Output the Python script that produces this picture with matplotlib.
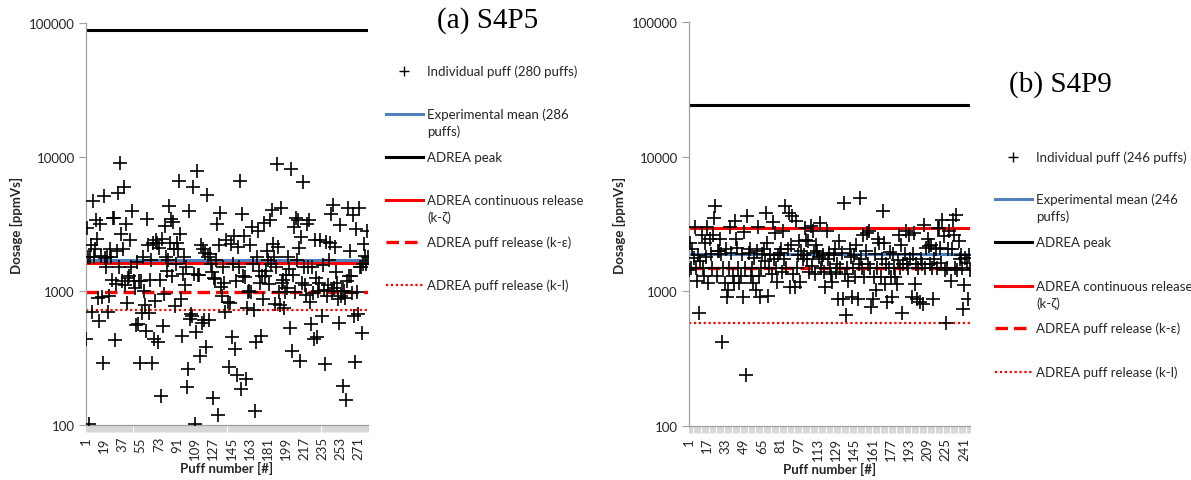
import matplotlib
matplotlib.use('Agg')
import matplotlib.pyplot as plt
from matplotlib.lines import Line2D
import numpy as np

plt.rcParams['font.family'] = ['Lato', 'DejaVu Sans']

# (a) S4P5 - individual puff dosages [ppmVs]
puffs_a = [
    440, 2950, 1800, 102, 1780, 2200, 700, 4700, 1780, 2050,
    3390, 2440, 880, 600, 3160, 1830, 900, 290, 5140, 1750,
    1500, 1780, 700, 920, 2050, 1800, 1200, 3490, 3520, 430,
    1120, 2000, 5360, 1500, 9020, 2660, 1180, 2050, 5940, 1100,
    3160, 820, 1250, 1300, 2400, 1520, 3980, 1180, 1050, 560,
    1650, 570, 1180, 290, 1190, 680, 1800, 1000, 780, 500,
    3470, 2200, 690, 1200, 1700, 290, 2280, 440, 840, 2400,
    2300, 414, 2100, 1200, 165, 2450, 545, 950, 3050, 1800,
    1420, 1700, 4330, 2300, 3450, 1300, 3290, 2050, 777, 1580,
    2300, 2050, 6580, 2660, 870, 460, 1340, 1800, 1100, 1500,
    191, 262, 3980, 618, 673, 654, 5940, 1340, 102, 495,
    7900, 1320, 1320, 330, 2200, 580, 2050, 605, 1920, 380,
    5200, 1780, 610, 1900, 1600, 1380, 158, 1260, 1230, 1700,
    3160, 119, 2200, 3800, 1065, 923, 1500, 1150, 700, 2400,
    830, 270, 820, 2240, 450, 1600, 2560, 370, 1190, 236,
    2120, 1510, 6650, 186, 3760, 1300, 2560, 1280, 220, 750,
    990, 1000, 2200, 990, 2990, 1590, 720, 128, 415, 1790,
    2800, 1400, 1150, 465, 1300, 870, 3210, 1300, 1400, 2000,
    1700, 1130, 3400, 1600, 4050, 2240, 1790, 800, 1500, 8870,
    2120, 990, 780, 4140, 1150, 1200, 750, 990, 1320, 1050,
    1800, 1450, 530, 8130, 355, 1320, 3000, 990, 3500, 1700,
    3400, 2080, 300, 2520, 1150, 6540, 1500, 1100, 930, 3160,
    1500, 3400, 830, 570, 1520, 960, 440, 2420, 1260, 450,
    1000, 1150, 2400, 650, 1550, 1010, 285, 2340, 910, 1100,
    1700, 2290, 3760, 1000, 4380, 1050, 2120, 1380, 1150, 870,
    580, 3100, 920, 1000, 195, 1000, 880, 154, 1180, 4140,
    1300, 2000, 1300, 960, 3700, 650, 295, 2900, 990, 670,
    4140, 1500, 1500, 490, 1600, 2240, 1820, 1580, 2820, 1800,
]

# (b) S4P9
puffs_b = [
    1450, 2300, 1500, 2050, 1780, 3000, 1480, 1200, 1870, 687,
    1680, 2600, 1500, 1310, 2300, 1800, 3000, 1150, 2430, 1880,
    1500, 2600, 3510, 4280, 1310, 1980, 2000, 2430, 1900, 417,
    1500, 1150, 2050, 900, 1020, 1500, 3000, 1930, 1310, 1150,
    3320, 2430, 2100, 1500, 1150, 1310, 1900, 900, 2780, 1500,
    239, 3610, 1930, 2050, 1310, 1500, 1150, 1780, 1020, 2000,
    3000, 1310, 900, 1500, 1880, 2050, 1680, 3830, 2300, 923,
    1500, 1850, 1350, 3260, 1750, 2720, 1500, 1170, 1850, 1930,
    2050, 1400, 2800, 1750, 4280, 1500, 2050, 3830, 1080, 2200,
    3610, 1350, 1080, 3320, 1500, 1850, 2360, 1170, 2000, 1750,
    1850, 2960, 2400, 1750, 2360, 1400, 3050, 1550, 2800, 1930,
    1350, 2200, 2000, 1800, 3220, 1500, 1750, 1850, 1400, 1080,
    2800, 1750, 1930, 1500, 1350, 1170, 1850, 2050, 1400, 1600,
    870, 2360, 1500, 1930, 870, 4540, 1350, 664, 1500, 1200,
    2050, 1800, 900, 1500, 1850, 1270, 2200, 880, 1600, 4940,
    1730, 1500, 2600, 1270, 2000, 2700, 1600, 2790, 1500, 760,
    880, 1270, 1880, 1030, 1500, 2450, 2270, 1270, 1730, 3930,
    2300, 1130, 1600, 830, 1500, 1950, 1270, 900, 1880, 1500,
    1270, 1130, 1700, 2600, 1500, 2200, 695, 1600, 1880, 2790,
    1600, 1500, 2600, 1730, 900, 1880, 2700, 1130, 1600, 880,
    1500, 830, 1730, 1600, 800, 3130, 1500, 2100, 2430, 2170,
    1600, 2200, 1500, 880, 1730, 2050, 1500, 2960, 2960, 2110,
    1630, 3410, 2570, 1450, 586, 1500, 2050, 2800, 1190, 2050,
    3410, 2640, 1500, 3660, 1450, 2360, 1730, 1850, 1500, 736,
    1110, 1780, 1630, 883, 1850, 1450,
]

# reference levels: exp. mean, ADREA peak, continuous (k-zeta), puff (k-eps), puff (k-l)
levels_a = [1700, 89000, 1620, 980, 725]
levels_b = [1900, 24200, 2940, 1490, 582]

labels_a = ['Individual puff (280 puffs)', 'Experimental mean (286\npuffs)', 'ADREA peak',
            'ADREA continuous release\n(k-\u03b6)', 'ADREA puff release (k-\u03b5)',
            'ADREA puff release (k-l)']
labels_b = ['Individual puff (246 puffs)', 'Experimental mean (246\npuffs)', 'ADREA peak',
            'ADREA continuous release\n(k-\u03b6)', 'ADREA puff release (k-\u03b5)',
            'ADREA puff release (k-l)']

W, H = 1191, 481
TXT = '#262626'
line_styles = [dict(color='#4F81BD', lw=2.2, ls='-'),
               dict(color='black', lw=2.2, ls='-'),
               dict(color='#FF0000', lw=2.2, ls='-'),
               dict(color='#FF0000', lw=2.4, ls=(0, (3.75, 1.8))),
               dict(color='#FF0000', lw=1.6, ls=(0, (1, 1.2)))]


def box(x0, y0, x1, y1):
    return [x0 / W, 1 - y1 / H, (x1 - x0) / W, (y1 - y0) / H]


def draw_panel(fig, rect, puffs, levels, tick_step):
    ax = fig.add_axes(rect)
    n = len(puffs)
    x = np.arange(1, n + 1)
    for lev, st in zip(levels, line_styles):
        ax.axhline(lev, zorder=2, **st)
    ax.plot(x, puffs, '+', color='black', ms=10, mew=1.2, zorder=3)
    ax.set_yscale('log')
    ax.set_ylim(100, 100000)
    ax.set_xlim(1, n)
    ax.set_yticks([100, 1000, 10000, 100000])
    ax.set_yticklabels(['100', '1000', '10000', '100000'])
    ax.yaxis.set_minor_locator(matplotlib.ticker.NullLocator())
    ax.set_xticks(np.arange(1, n + 1, tick_step))
    ax.set_xticklabels([str(v) for v in range(1, n + 1, tick_step)], rotation=90)
    ax.set_xticks(x, minor=True)
    ax.tick_params(axis='x', which='both', length=5, width=0.4, color='#b8b8b8',
                   labelsize=9.5, labelcolor=TXT, pad=3)
    ax.tick_params(axis='y', length=5, width=0.8, color='#a0a0a0', labelsize=9.5,
                   labelcolor=TXT, pad=3)
    for s in ['top', 'right']:
        ax.spines[s].set_visible(False)
    for s in ['left', 'bottom']:
        ax.spines[s].set_color('#a0a0a0')
        ax.spines[s].set_linewidth(0.9)
    ax.set_ylabel('Dosage [ppmVs]', fontsize=9.5, fontweight='bold', color=TXT)
    ax.set_xlabel('Puff number [#]', fontsize=9.5, fontweight='bold', color=TXT)
    ax.yaxis.set_label_coords(-63 / (rect[2] * W), 0.5)
    ax.xaxis.set_label_coords(0.5, -36 / (rect[3] * H))
    return ax


def draw_legend(fig, x0, ys, labels):
    handles = [None] + line_styles
    for y, lab, st in zip(ys, labels, handles):
        yf = 1 - y / H
        if st is None:
            fig.add_artist(Line2D([(x0 + 18) / W], [yf], marker='+', color='black',
                                  ms=7, mew=1.0, transform=fig.transFigure))
        else:
            fig.add_artist(Line2D([x0 / W, (x0 + 37) / W], [yf, yf],
                                  transform=fig.transFigure, **st))
        for i, part in enumerate(lab.split('\n')):
            fig.text((x0 + 41) / W, 1 - (y + 17 * i) / H, part, fontsize=9.5,
                     color=TXT, va='center', ha='left')


fig = plt.figure(figsize=(W / 100, H / 100), dpi=100)

draw_panel(fig, box(86, 24, 368, 426), puffs_a, levels_a, 18)
draw_panel(fig, box(689, 23, 970, 427), puffs_b, levels_b, 16)

draw_legend(fig, 386, [72, 115, 158, 201, 243, 286], labels_a)
draw_legend(fig, 995, [158, 200, 243, 287, 329, 373], labels_b)

fig.text(488 / W, 1 - 21 / H, '(a) S4P5', fontsize=21, family='Liberation Serif',
         ha='center', va='center', color='black')
fig.text(1060 / W, 1 - 85 / H, '(b) S4P9', fontsize=21, family='Liberation Serif',
         ha='center', va='center', color='black')

fig.savefig('out.png', dpi=100)
